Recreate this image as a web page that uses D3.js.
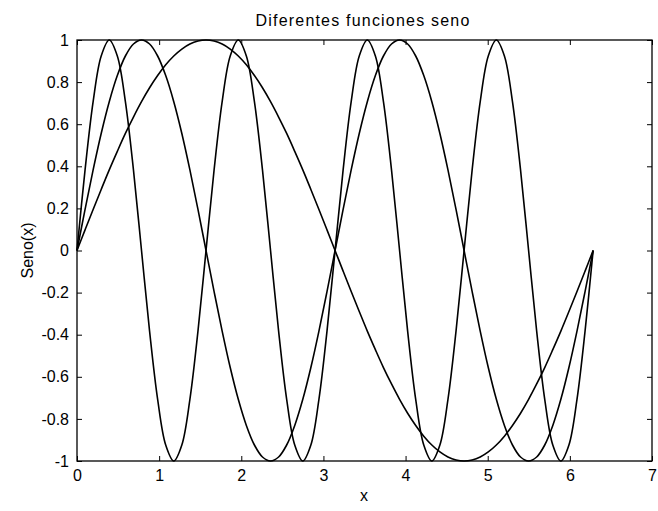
<!DOCTYPE html>
<html>
<head>
<meta charset="utf-8">
<script src="https://cdn.jsdelivr.net/npm/d3@7"></script>
<style>
  html, body { margin: 0; padding: 0; background: #fff; }
  svg { display: block; }
  text { font-family: "Liberation Sans", Arial, sans-serif; fill: #000; }
</style>
</head>
<body>
<svg id="chart" width="658" height="511"></svg>
<script>
// Sample positions: 0 .. 2π in steps of π/32
const step = Math.PI / 32;
const sampleCount = 65;

// sin(x)
const senoX = [0,0.098,0.195,0.290,0.383,0.471,0.556,0.634,0.707,0.773,0.831,0.882,0.924,0.957,0.981,0.995,1,
  0.995,0.981,0.957,0.924,0.882,0.831,0.773,0.707,0.634,0.556,0.471,0.383,0.290,0.195,0.098,0,
  -0.098,-0.195,-0.290,-0.383,-0.471,-0.556,-0.634,-0.707,-0.773,-0.831,-0.882,-0.924,-0.957,-0.981,-0.995,-1,
  -0.995,-0.981,-0.957,-0.924,-0.882,-0.831,-0.773,-0.707,-0.634,-0.556,-0.471,-0.383,-0.290,-0.195,-0.098,0];

// sin(2x)
const seno2X = [0,0.195,0.383,0.556,0.707,0.831,0.924,0.981,1,0.981,0.924,0.831,0.707,0.556,0.383,0.195,0,
  -0.195,-0.383,-0.556,-0.707,-0.831,-0.924,-0.981,-1,-0.981,-0.924,-0.831,-0.707,-0.556,-0.383,-0.195,0,
  0.195,0.383,0.556,0.707,0.831,0.924,0.981,1,0.981,0.924,0.831,0.707,0.556,0.383,0.195,0,
  -0.195,-0.383,-0.556,-0.707,-0.831,-0.924,-0.981,-1,-0.981,-0.924,-0.831,-0.707,-0.556,-0.383,-0.195,0];

// sin(4x)
const seno4X = [0,0.383,0.707,0.924,1,0.924,0.707,0.383,0,-0.383,-0.707,-0.924,-1,-0.924,-0.707,-0.383,
  0,0.383,0.707,0.924,1,0.924,0.707,0.383,0,-0.383,-0.707,-0.924,-1,-0.924,-0.707,-0.383,
  0,0.383,0.707,0.924,1,0.924,0.707,0.383,0,-0.383,-0.707,-0.924,-1,-0.924,-0.707,-0.383,
  0,0.383,0.707,0.924,1,0.924,0.707,0.383,0,-0.383,-0.707,-0.924,-1,-0.924,-0.707,-0.383,0];

const xTicks = [0, 1, 2, 3, 4, 5, 6, 7];
const yTicks = [-1, -0.8, -0.6, -0.4, -0.2, 0, 0.2, 0.4, 0.6, 0.8, 1];

const titleText = "Diferentes funciones seno";
const xLabelText = "x";
const yLabelText = "Seno(x)";

const xs = d3.range(sampleCount).map(i => i * step);

const svg = d3.select("#chart");
const plot = { left: 77, right: 652, top: 40, bottom: 461 };
const fontSize = "16px";

const x = d3.scaleLinear().domain([0, 7]).range([plot.left, plot.right]);
const y = d3.scaleLinear().domain([-1, 1]).range([plot.bottom, plot.top]);

// Plain hyphen for negatives
const fmt = d => String(d);

// Inward ticks on all four sides, labels only on bottom and left
function styleAxis(g) {
  g.select(".domain").remove();
  g.selectAll(".tick line").attr("stroke", "#000").attr("stroke-width", 1);
  g.selectAll(".tick text").style("font-size", fontSize).attr("fill", "#000");
}

svg.append("g")
  .attr("transform", `translate(0,${plot.bottom})`)
  .call(d3.axisBottom(x).tickValues(xTicks).tickFormat(fmt).tickSizeInner(-5).tickSizeOuter(0).tickPadding(9))
  .call(styleAxis);

svg.append("g")
  .attr("transform", `translate(0,${plot.top})`)
  .call(d3.axisTop(x).tickValues(xTicks).tickFormat("").tickSizeInner(-5).tickSizeOuter(0))
  .call(styleAxis);

svg.append("g")
  .attr("transform", `translate(${plot.left},0)`)
  .call(d3.axisLeft(y).tickValues(yTicks).tickFormat(fmt).tickSizeInner(-5).tickSizeOuter(0).tickPadding(8))
  .call(styleAxis);

svg.append("g")
  .attr("transform", `translate(${plot.right},0)`)
  .call(d3.axisRight(y).tickValues(yTicks).tickFormat("").tickSizeInner(-5).tickSizeOuter(0))
  .call(styleAxis);

// Plot box
svg.append("rect")
  .attr("x", plot.left).attr("y", plot.top)
  .attr("width", plot.right - plot.left).attr("height", plot.bottom - plot.top)
  .attr("fill", "none").attr("stroke", "#000").attr("stroke-width", 1.3);

// Curves
const line = d3.line()
  .x((d, i) => x(xs[i]))
  .y(d => y(d))
  .curve(d3.curveCatmullRom.alpha(0.5));
[senoX, seno2X, seno4X].forEach(series => {
  svg.append("path")
    .datum(series)
    .attr("d", line)
    .attr("fill", "none")
    .attr("stroke", "#000")
    .attr("stroke-width", 1.6)
    .attr("stroke-linejoin", "round");
});

// Titles
svg.append("text")
  .attr("x", 363).attr("y", 26)
  .attr("text-anchor", "middle").style("font-size", fontSize)
  .style("letter-spacing", "1.2px")
  .text(titleText);

svg.append("text")
  .attr("x", 364).attr("y", 501)
  .attr("text-anchor", "middle").style("font-size", fontSize)
  .text(xLabelText);

svg.append("text")
  .attr("transform", `translate(33,${(plot.top + plot.bottom) / 2}) rotate(-90)`)
  .attr("text-anchor", "middle").style("font-size", fontSize)
  .text(yLabelText);
</script>
</body>
</html>
